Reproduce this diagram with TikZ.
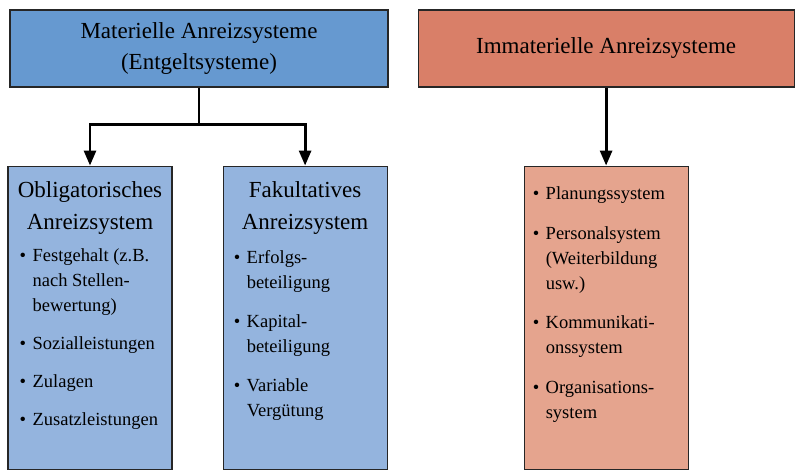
\documentclass[tikz,border=0pt]{standalone}
\usepackage{fontspec}
\setmainfont{Liberation Serif}
\usetikzlibrary{positioning, arrows.meta}

\definecolor{matblue}{RGB}{102,153,208}
\definecolor{matlight}{RGB}{148,180,222}
\definecolor{immred}{RGB}{217,127,104}
\definecolor{immlight}{RGB}{229,164,142}

\newcommand{\itm}{\makebox[13pt][l]{\textbullet}}
\newcommand{\ind}{\hspace*{13pt}}

\tikzset{%
  box/.style={draw=black!85, line width=1.1pt, rectangle, inner sep=0pt},
  headbox/.style={box, minimum width=378pt, minimum height=77pt, align=center,
    font=\fontsize{23}{31}\selectfont},
  subbox/.style={box, minimum width=164pt, minimum height=303pt},
  title/.style={align=center, inner sep=0pt, font=\fontsize{23}{32}\selectfont},
  liste/.style={align=left, inner sep=0pt, font=\fontsize{18.5}{25}\selectfont},
  edge/.style={line width=2.8pt, -{Triangle[length=15pt,width=12pt]}}
}

\begin{document}
\begin{tikzpicture}
  \useasboundingbox (0,0) rectangle (795pt,-471pt);

  \node[headbox, fill=matblue] (mat) at (199pt,-48.5pt) {Materielle Anreizsysteme\\(Entgeltsysteme)};
  \node[headbox, fill=immred, minimum width=376pt] (imm) [right = 29pt of mat] {Immaterielle Anreizsysteme};

  \node[subbox, fill=matlight] (obl) [below right = 78pt and -2pt of mat.south west] {};
  \node[subbox, fill=matlight] (fak) [right = 50pt of obl] {};
  \node[subbox, fill=immlight] (pla) [below = 78pt of imm] {};

  \node[title] (obltitle) [below = 16pt of obl.north] {Obligatorisches\\Anreizsystem};
  \node[title] (faktitle) [below = 16pt of fak.north] {Fakultatives\\Anreizsystem};

  \node[liste] (obllist) [below right = 83pt and 12pt of obl.north west]
    {\itm Festgehalt (z.B.\\ \ind nach Stellen-\\ \ind bewertung)\\[13pt]
     \itm Sozialleistungen\\[13pt] \itm Zulagen\\[13pt] \itm Zusatzleistungen};
  \node[liste] (faklist) [below right = 85pt and 11pt of fak.north west]
    {\itm Erfolgs-\\ \ind beteiligung\\[14pt] \itm Kapital-\\ \ind beteiligung\\[14pt]
     \itm Variable\\ \ind Vergütung};
  \node[liste] (plalist) [below right = 21pt and 9pt of pla.north west]
    {\itm Planungssystem\\[15pt] \itm Personalsystem\\ \ind (Weiterbildung\\ \ind usw.)\\[14pt]
     \itm Kommunikati-\\ \ind onssystem\\[15pt] \itm Organisations-\\ \ind system};

  \path (mat.south) ++(0,-37pt) coordinate (split);
  \draw[edge] (mat.south) -- (split) -| (obl.north);
  \draw[edge] (split) -| (fak.north);
  \draw[edge] (imm) -- (pla);
\end{tikzpicture}
\end{document}
